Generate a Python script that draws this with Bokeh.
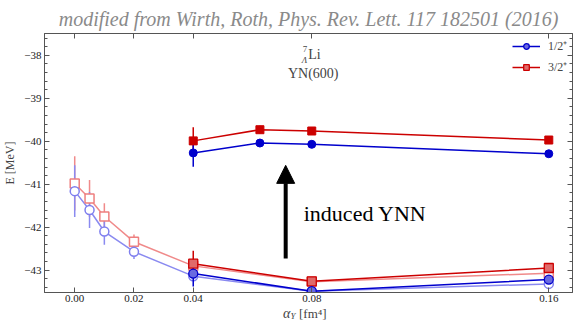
import numpy as np
from bokeh.plotting import figure
from bokeh.layouts import column
from bokeh.models import (ColumnDataSource, FixedTicker, CustomJSTickFormatter, LinearAxis,
                          Range1d, Label, Arrow, NormalHead, Legend, LegendItem)
from bokeh.embed import file_html
from bokeh.resources import INLINE

# ---------------- data ----------------
x_faded = [0.0, 0.005, 0.01, 0.02, 0.04, 0.08, 0.16]
blue_faded = [-41.16, -41.60, -42.10, -42.57, -43.14, -43.49, -43.32]
blue_faded_err = [0.60, 0.42, 0.31, 0.17, 0.08, 0.02, 0.02]
red_faded = [-40.98, -41.33, -41.75, -42.34, -42.90, -43.27, -43.07]
red_faded_err = [0.63, 0.43, 0.31, 0.17, 0.08, 0.02, 0.02]

x_low = [0.04, 0.08, 0.16]
blue_low = [-43.08, -43.49, -43.22]
red_low = [-42.85, -43.26, -42.95]
low_err = [0.30, 0.02, 0.02]

x_up = [0.04, 0.0625, 0.08, 0.16]
blue_up = [-40.27, -40.04, -40.07, -40.29]
red_up = [-39.99, -39.73, -39.76, -39.97]
up_err = [0.32, 0.09, 0.02, 0.02]

x_ticks = [0.0, 0.02, 0.04, 0.08, 0.16]
y_ticks = [-43, -42, -41, -40, -39, -38]

SERIF = "Liberation Serif"
BLUE = "#0000cc"
RED = "#cc0000"


def src(x, y, e):
    y = np.array(y)
    e = np.array(e)
    return ColumnDataSource(dict(x=x, y=y, lo=y - e, hi=y + e))


p = figure(width=575, height=305, output_backend="svg", toolbar_location=None,
           x_range=Range1d(-0.0102, 0.168), y_range=Range1d(-43.52, -37.49),
           min_border_left=44, min_border_right=3, min_border_top=33, min_border_bottom=13)
p.background_fill_color = "white"
p.border_fill_color = "white"
p.outline_line_color = "#555555"
p.grid.visible = False

p.title.text = "modified from Wirth, Roth, Phys. Rev. Lett. 117 182501 (2016)"
p.title.align = "center"
p.title.text_font = SERIF
p.title.text_font_style = "italic"
p.title.text_font_size = "20px"
p.title.text_color = "#8a8a8a"
p.title.standoff = 8

xt = FixedTicker(ticks=x_ticks, minor_ticks=[])
yt = FixedTicker(ticks=y_ticks, minor_ticks=[round(v, 1) for v in np.arange(-43.6, -37.39, 0.2)])
xf = CustomJSTickFormatter(code="return tick.toFixed(2);")
yf = CustomJSTickFormatter(code="return '\u2212' + Math.abs(tick).toFixed(0);")
blank = CustomJSTickFormatter(code="return '';")


def style_axis(ax, show_labels):
    ax.axis_line_color = "#555555"
    ax.major_tick_line_color = "#555555"
    ax.minor_tick_line_color = "#555555"
    ax.major_tick_in = 5
    ax.major_tick_out = 0
    ax.minor_tick_in = 3
    ax.minor_tick_out = 0
    ax.major_label_text_font = SERIF
    ax.major_label_text_font_size = "11px"
    ax.major_label_text_color = "#222222"
    ax.major_label_standoff = 3 if show_labels else 0


p.xaxis.ticker = xt
p.xaxis.formatter = xf
p.yaxis.ticker = yt
p.yaxis.formatter = yf
style_axis(p.xaxis[0], True)
style_axis(p.yaxis[0], True)
p.xaxis.major_label_standoff = 2
p.yaxis.axis_label = "E [MeV]"
p.yaxis.axis_label_text_font = SERIF
p.yaxis.axis_label_text_font_style = "normal"
p.yaxis.axis_label_text_font_size = "12px"
p.yaxis.axis_label_standoff = 4

top = LinearAxis(ticker=xt, formatter=blank)
style_axis(top, False)
p.add_layout(top, "above")
right = LinearAxis(ticker=yt, formatter=blank)
style_axis(right, False)
p.add_layout(right, "right")

# ---------------- faded series ----------------
sbf = src(x_faded, blue_faded, blue_faded_err)
srf = src(x_faded, red_faded, red_faded_err)
for s, c in ((srf, "#f08a8a"), (sbf, "#8a8af0")):
    p.segment(x0="x", y0="lo", x1="x", y1="hi", source=s, line_color=c, line_width=1.5)
p.line("x", "y", source=srf, line_color="#f08a8a", line_width=1.5)
p.line("x", "y", source=sbf, line_color="#8a8af0", line_width=1.5)
p.scatter("x", "y", source=srf, marker="square", size=9, fill_color="white",
          line_color="#ee7f7f", line_width=1.5)
p.scatter("x", "y", source=sbf, marker="circle", size=9, fill_color="white",
          line_color="#7f7fee", line_width=1.5)

# ---------------- lower solid series ----------------
sbl = src(x_low, blue_low, low_err)
srl = src(x_low, red_low, low_err)
p.segment(x0="x", y0="lo", x1="x", y1="hi", source=srl, line_color=RED, line_width=1.5)
p.segment(x0="x", y0="lo", x1="x", y1="hi", source=sbl, line_color=BLUE, line_width=1.5)
lr_line = p.line("x", "y", source=srl, line_color=RED, line_width=1.5)
lb_line = p.line("x", "y", source=sbl, line_color=BLUE, line_width=1.5)
lr_sc = p.scatter("x", "y", source=srl, marker="square", size=9, fill_color="#e06a6a",
                  line_color=RED, line_width=1.3)
lb_sc = p.scatter("x", "y", source=sbl, marker="circle", size=9, fill_color="#6a6ae0",
                  line_color=BLUE, line_width=1.3)

# ---------------- upper series ----------------
sbu = src(x_up, blue_up, up_err)
sru = src(x_up, red_up, up_err)
p.segment(x0="x", y0="lo", x1="x", y1="hi", source=sru, line_color=RED, line_width=1.5)
p.segment(x0="x", y0="lo", x1="x", y1="hi", source=sbu, line_color=BLUE, line_width=1.5)
p.line("x", "y", source=sru, line_color=RED, line_width=1.5)
p.line("x", "y", source=sbu, line_color=BLUE, line_width=1.5)
p.scatter("x", "y", source=sru, marker="square", size=8, fill_color=RED, line_color=RED)
p.scatter("x", "y", source=sbu, marker="circle", size=8, fill_color=BLUE, line_color=BLUE)

# ---------------- annotations ----------------
p.add_layout(Arrow(end=NormalHead(size=18, fill_color="black", line_color="black"),
                   x_start=0.0712, y_start=-42.73, x_end=0.0712, y_end=-40.56,
                   line_width=4, line_color="black"))
p.add_layout(Label(x=0.0773, y=-41.68, text="induced YNN", text_font=SERIF,
                   text_font_size="22px", text_baseline="middle", text_color="black"))
p.add_layout(Label(x=0.0805, y=-38.42, text="YN(600)", text_font=SERIF,
                   text_font_size="14px", text_baseline="middle", text_align="center"))
p.add_layout(Label(x=0.0805, y=-37.97, x_offset=-5, text="Li", text_font=SERIF,
                   text_font_size="14px", text_baseline="middle", text_align="left"))
p.add_layout(Label(x=0.0805, y=-37.97, x_offset=-6, y_offset=5, text="7", text_font=SERIF,
                   text_font_size="9px", text_baseline="middle", text_align="right"))
p.add_layout(Label(x=0.0805, y=-37.97, x_offset=-6, y_offset=-6, text="Λ", text_font=SERIF,
                   text_font_style="italic", text_font_size="9px", text_baseline="middle",
                   text_align="right"))

legend = Legend(items=[LegendItem(label="1/2⁺", renderers=[lb_line, lb_sc]),
                       LegendItem(label="3/2⁺", renderers=[lr_line, lr_sc])],
                location="top_right")
legend.label_text_font = SERIF
legend.label_text_font_size = "12px"
legend.border_line_color = None
legend.background_fill_alpha = 0
legend.glyph_width = 28
legend.glyph_height = 14
legend.label_height = 14
legend.spacing = 4
legend.padding = 4
legend.margin = 4
legend.label_standoff = 8
p.add_layout(legend)

# ---------------- x-axis title strip: alpha_Y [fm^4] ----------------
p2 = figure(width=575, height=15, output_backend="svg", toolbar_location=None,
            x_range=p.x_range, y_range=Range1d(0, 1),
            min_border_left=44, min_border_right=3, min_border_top=0, min_border_bottom=0)
p2.axis.visible = False
p2.grid.visible = False
p2.outline_line_color = None
p2.border_fill_color = "white"
p2.add_layout(Label(x=0.0728, y=0.5, text="α", text_font=SERIF,
                    text_font_style="italic", text_font_size="14px", text_baseline="middle",
                    text_align="right"))
p2.add_layout(Label(x=0.0728, y=0.5, y_offset=-3, text="Y", text_font=SERIF,
                    text_font_style="italic", text_font_size="9px", text_baseline="middle",
                    text_align="left"))
p2.add_layout(Label(x=0.0757, y=0.5, text="[fm⁴]", text_font=SERIF,
                    text_font_size="13px", text_baseline="middle", text_align="left"))

layout = column(p, p2, spacing=0)
open("out.html", "w").write(file_html(layout, INLINE))
